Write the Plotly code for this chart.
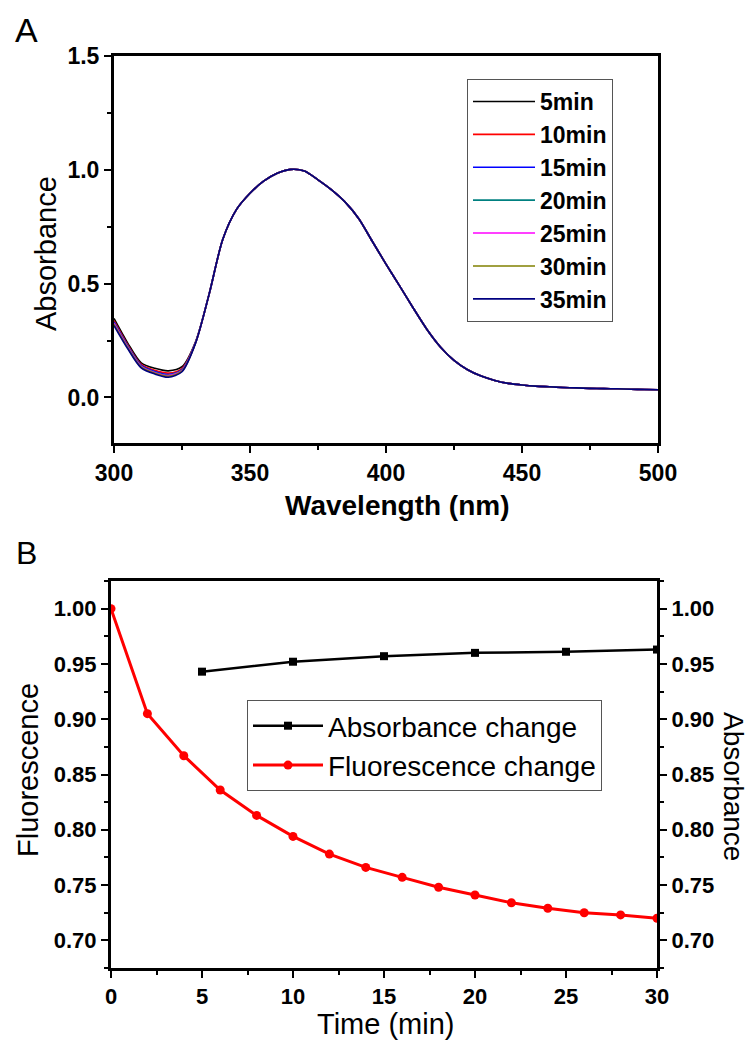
import plotly.graph_objects as go

# ---------------- Panel A data ----------------
wavelength = [300, 305, 310, 315, 320, 325, 330, 335, 340, 345, 350, 355, 360, 365, 370,
              375, 380, 385, 390, 395, 400, 405, 410, 415, 420, 425, 430, 435, 440, 445,
              450, 455, 460, 465, 470, 475, 480, 485, 490, 495, 500]
series_names = ["5min", "10min", "15min", "20min", "25min", "30min", "35min"]
# absorbance 300-330 nm (differs by time)
head_5 = [0.347, 0.240, 0.152, 0.128, 0.117, 0.135, 0.245]
head_10 = [0.337, 0.232, 0.145, 0.119, 0.107, 0.127, 0.243]
head_15 = [0.332, 0.228, 0.141, 0.114, 0.101, 0.122, 0.242]
head_20 = [0.328, 0.225, 0.138, 0.111, 0.098, 0.120, 0.241]
head_25 = [0.325, 0.222, 0.136, 0.109, 0.096, 0.118, 0.240]
head_30 = [0.321, 0.219, 0.133, 0.106, 0.093, 0.116, 0.240]
head_35 = [0.316, 0.215, 0.130, 0.103, 0.089, 0.113, 0.239]
# absorbance 335-500 nm (common to all times)
tail_common = [0.455, 0.695, 0.825, 0.897, 0.950, 0.985, 1.002, 0.995, 0.956, 0.912,
               0.858, 0.785, 0.685, 0.586, 0.490, 0.393, 0.300, 0.222, 0.163, 0.122,
               0.094, 0.075, 0.062, 0.055, 0.050, 0.047, 0.044, 0.042, 0.040, 0.039,
               0.038, 0.036, 0.035, 0.034]
heads = [head_5, head_10, head_15, head_20, head_25, head_30, head_35]
series_colors = ["#000000", "#FF0000", "#0000FF", "#008080", "#FF00FF", "#808000", "#000080"]

# ---------------- Panel B data ----------------
abs_time = [5, 10, 15, 20, 25, 30]
abs_change = [0.943, 0.952, 0.957, 0.960, 0.961, 0.963]
fl_time = [0, 2, 4, 6, 8, 10, 12, 14, 16, 18, 20, 22, 24, 26, 28, 30]
fl_change = [1.000, 0.905, 0.867, 0.836, 0.813, 0.794, 0.778, 0.766, 0.757, 0.748,
             0.741, 0.734, 0.729, 0.725, 0.723, 0.720]

# page body has an 8px margin: the figure is sized to fill the rest of the window
OFF = 8
W, H = 753 - OFF, 1044 - OFF
FONT = "Liberation Sans, Arial, sans-serif"

fig = go.Figure()

for name, head, col in zip(series_names, heads, series_colors):
    fig.add_trace(go.Scatter(
        x=wavelength, y=head + tail_common, name=name, mode="lines",
        line=dict(color=col, width=1.6, shape="spline", smoothing=0.8),
        xaxis="x", yaxis="y", legend="legend", legendgroup=name,
    ))

fig.add_trace(go.Scatter(
    x=abs_time, y=abs_change, name="Absorbance change", mode="lines+markers",
    line=dict(color="black", width=2.5), marker=dict(symbol="square", size=8, color="black"),
    xaxis="x2", yaxis="y3", legend="legend2", legendgroup="abs",
))
fig.add_trace(go.Scatter(
    x=fl_time, y=fl_change, name="Fluorescence change", mode="lines+markers",
    line=dict(color="#FF0000", width=3), marker=dict(symbol="circle", size=9, color="#FF0000"),
    xaxis="x2", yaxis="y2", legend="legend2", legendgroup="fl",
))

def px_x(p):
    return (p - OFF) / W

def px_y(p):
    return 1 - (p - OFF) / H

tickfontA = dict(family=FONT, size=23, color="black", weight="bold")
tickfontB = dict(family=FONT, size=22, color="black", weight="bold")
common_axis = dict(showgrid=False, zeroline=False, showline=True, linecolor="black", linewidth=3,
                   ticks="outside", ticklen=7, tickwidth=2, tickcolor="black", automargin=False)

def minor(d):
    return dict(ticks="outside", ticklen=4, tickwidth=2, tickcolor="black", dtick=d, showgrid=False)

fig.update_layout(
    template="none",
    width=W, height=H, margin=dict(l=0, r=0, t=0, b=0, autoexpand=False),
    paper_bgcolor="white", plot_bgcolor="white",
    xaxis=dict(domain=[px_x(114), px_x(658)], anchor="y", range=[300, 500],
               tick0=300, dtick=50, mirror=True, tickfont=tickfontA, minor=minor(25),
               **common_axis),
    yaxis=dict(domain=[px_y(443), px_y(56)], anchor="x", range=[-0.2, 1.5],
               tick0=0, dtick=0.5, tickformat=".1f", mirror=True, tickfont=tickfontA,
               minor=minor(0.25), **common_axis),
    xaxis2=dict(domain=[px_x(111), px_x(657)], anchor="y2", range=[0, 30],
                tick0=0, dtick=5, mirror=True, tickfont=tickfontB, minor=minor(2.5),
                **common_axis),
    yaxis2=dict(domain=[px_y(968), px_y(581)], anchor="x2", range=[0.675, 1.025],
                tick0=0.7, dtick=0.05, tickformat=".2f", tickfont=tickfontB,
                minor=minor(0.025), **common_axis),
    yaxis3=dict(overlaying="y2", anchor="x2", side="right", range=[0.675, 1.025],
                tick0=0.7, dtick=0.05, tickformat=".2f", tickfont=tickfontB,
                minor=minor(0.025), **common_axis),
    legend=dict(x=px_x(467), y=px_y(79), xanchor="left", yanchor="top",
                bordercolor="#555555", borderwidth=1, bgcolor="white",
                font=dict(family=FONT, size=23, color="black", weight="bold"),
                tracegroupgap=0, itemwidth=62),
    legend2=dict(x=px_x(247), y=px_y(700), xanchor="left", yanchor="top",
                 bordercolor="#555555", borderwidth=1, bgcolor="white",
                 font=dict(family=FONT, size=28, color="black"),
                 tracegroupgap=0, itemwidth=70),
    showlegend=True,
)

annots = [
    dict(text="A", x=px_x(26), y=px_y(30), font=dict(family=FONT, size=34, color="black")),
    dict(text="B", x=px_x(26), y=px_y(553), font=dict(family=FONT, size=32, color="black")),
    dict(text="Wavelength (nm)", x=px_x(397), y=px_y(505),
         font=dict(family=FONT, size=28, color="black", weight="bold")),
    dict(text="Absorbance", x=px_x(46), y=px_y(254), textangle=-90,
         font=dict(family=FONT, size=29, color="black")),
    dict(text="Time (min)", x=px_x(385), y=px_y(1024),
         font=dict(family=FONT, size=29, color="black")),
    dict(text="Fluorescence", x=px_x(28), y=px_y(770), textangle=-90,
         font=dict(family=FONT, size=29, color="black")),
    dict(text="Absorbance", x=px_x(734), y=px_y(786), textangle=90,
         font=dict(family=FONT, size=28, color="black")),
]
for a in annots:
    fig.add_annotation(xref="paper", yref="paper", showarrow=False,
                       xanchor="center", yanchor="middle", **a)

fig.write_html("out.html")
